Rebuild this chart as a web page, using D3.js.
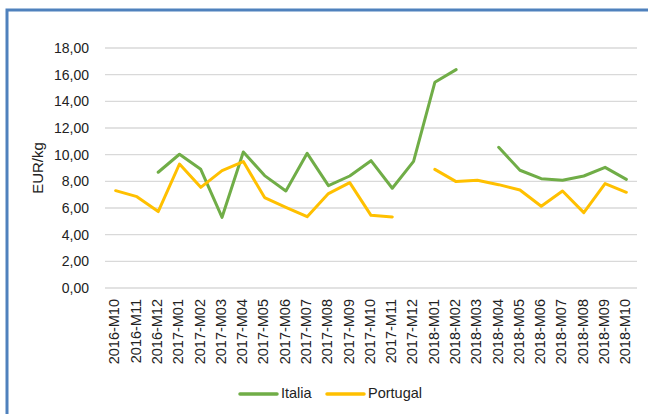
<!DOCTYPE html>
<html>
<head>
<meta charset="utf-8">
<script src="https://cdn.jsdelivr.net/npm/d3@7"></script>
<style>
  body { margin: 0; background: #fff; }
  svg { display: block; font-family: "Liberation Sans", Arial, sans-serif; }
</style>
</head>
<body>
<script>
// mesi
var months = ["2016-M10", "2016-M11", "2016-M12",
              "2017-M01", "2017-M02", "2017-M03", "2017-M04", "2017-M05", "2017-M06",
              "2017-M07", "2017-M08", "2017-M09", "2017-M10", "2017-M11", "2017-M12",
              "2018-M01", "2018-M02", "2018-M03", "2018-M04", "2018-M05", "2018-M06",
              "2018-M07", "2018-M08", "2018-M09", "2018-M10"];
// prezzi EUR/kg (null = dato mancante)
var italia = [null, null, 8.68, 10.03, 8.9, 5.3, 10.2, 8.43, 7.28, 10.1, 7.68, 8.4,
              9.55, 7.48, 9.5, 15.43, 16.38, null, 10.55, 8.83, 8.2, 8.08, 8.4, 9.05, 8.15];
var portugal = [7.3, 6.85, 5.73, 9.3, 7.55, 8.8, 9.48, 6.78, 6.05, 5.35, 7.08, 7.9,
                5.45, 5.33, null, 8.9, 7.98, 8.08, 7.75, 7.35, 6.13, 7.28, 5.65, 7.83, 7.18];
var yTicks = [0, 2, 4, 6, 8, 10, 12, 14, 16, 18];

var series = [
  { name: "Italia", values: italia, color: "#70ad47" },
  { name: "Portugal", values: portugal, color: "#ffc000" }
];

var w = 648, h = 414;
var mLeft = 105, mRight = 637, mTop = 48, mBottom = 288;

var svg = d3.select("body").append("svg")
  .attr("width", w).attr("height", h);

// cornice
svg.append("path")
  .attr("d", "M7," + h + " V10 H" + w)
  .attr("fill", "none")
  .attr("stroke", "#4f81bd")
  .attr("stroke-width", 3);

var x = d3.scaleBand().domain(months).range([mLeft, mRight]);
var y = d3.scaleLinear().domain([0, 18]).range([mBottom, mTop]);

// griglia
svg.append("g")
  .selectAll("line")
  .data(yTicks)
  .enter()
  .append("line")
  .attr("x1", mLeft).attr("x2", mRight)
  .attr("y1", function(d) { return y(d); })
  .attr("y2", function(d) { return y(d); })
  .attr("stroke", "#d9d9d9")
  .attr("stroke-width", 1.3);

// asse y
var yAxis = svg.append("g")
  .attr("transform", "translate(" + (mLeft - 13) + ",0)")
  .call(d3.axisLeft(y).tickValues(yTicks).tickSize(0)
    .tickFormat(function(d) { return d3.format(".2f")(d).replace(".", ","); }));
yAxis.select(".domain").remove();
yAxis.selectAll("text")
  .attr("font-size", 14)
  .attr("fill", "#222")
  .attr("font-family", "Liberation Sans, Arial, sans-serif");

svg.append("text")
  .attr("transform", "translate(39," + ((mTop + mBottom) / 2) + ") rotate(-90)")
  .attr("text-anchor", "middle")
  .attr("dominant-baseline", "middle")
  .attr("font-size", 15)
  .attr("fill", "#222")
  .text("EUR/kg");

// asse x
var xAxis = svg.append("g")
  .attr("transform", "translate(0," + mBottom + ")")
  .call(d3.axisBottom(x).tickSize(0));
xAxis.select(".domain").remove();
xAxis.selectAll("text")
  .attr("font-size", 14.5)
  .attr("fill", "#222")
  .attr("font-family", "Liberation Sans, Arial, sans-serif")
  .attr("transform", "rotate(-90)")
  .attr("text-anchor", "end")
  .attr("dominant-baseline", "middle")
  .attr("x", -11)
  .attr("y", 0)
  .attr("dy", null);

// linee
var line = d3.line()
  .defined(function(d) { return d != null; })
  .x(function(d, i) { return x(months[i]) + x.bandwidth() / 2; })
  .y(function(d) { return y(d); });

svg.selectAll("path.serie")
  .data(series)
  .enter()
  .append("path")
  .attr("class", "serie")
  .attr("d", function(d) { return line(d.values); })
  .attr("fill", "none")
  .attr("stroke", function(d) { return d.color; })
  .attr("stroke-width", 3)
  .attr("stroke-linejoin", "round")
  .attr("stroke-linecap", "round");

// legenda
var legendX = [240, 327];
var leg = svg.selectAll("g.leg")
  .data(series)
  .enter()
  .append("g")
  .attr("class", "leg")
  .attr("transform", function(d, i) { return "translate(" + legendX[i] + ",394)"; });
leg.append("line")
  .attr("x1", 0).attr("x2", 37)
  .attr("stroke", function(d) { return d.color; })
  .attr("stroke-width", 3.5)
  .attr("stroke-linecap", "round");
leg.append("text")
  .attr("x", 41)
  .attr("dominant-baseline", "middle")
  .attr("font-size", 14.5)
  .attr("fill", "#222")
  .text(function(d) { return d.name; });
</script>
</body>
</html>
